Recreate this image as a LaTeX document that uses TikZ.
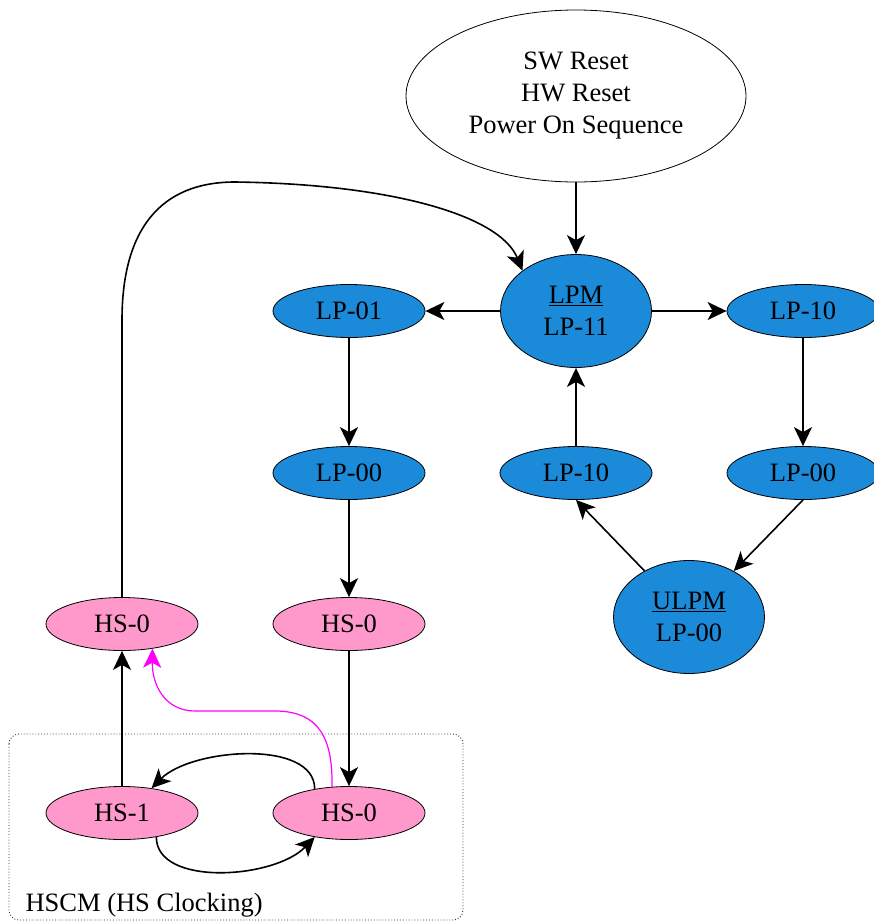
\documentclass[tikz,border=0pt]{standalone}
\usepackage{fontspec}
\setmainfont{Liberation Serif}
\usetikzlibrary{shapes.geometric,arrows.meta}

\definecolor{lpblue}{HTML}{1B8AD9}
\definecolor{hspink}{HTML}{FF99CC}
\definecolor{hsmagenta}{HTML}{FF00FF}

\begin{document}
\begin{tikzpicture}[x=1pt,y=-1pt,
  every node/.style={font=\fontsize{26.5}{32}\selectfont},
  state/.style={ellipse,draw,line width=0.8pt,inner sep=0pt,minimum width=152pt,minimum height=53pt},
  lpstate/.style={state,fill=lpblue},
  hsstate/.style={state,fill=hspink},
  arr/.style={line width=1.6pt,-{Stealth[length=19pt,width=18pt,inset=5pt]}}]
    \useasboundingbox (0,0) rectangle (874,922);

    % HSCM frame
    \draw[dotted,rounded corners=10pt,line width=0.9pt,black!80] (9,734) rectangle (463,920);
    \node[anchor=base west] (hscm) at (22,911) {HSCM (HS Clocking)};

    % Draw states
    \node[state,minimum width=340pt,minimum height=172pt,align=center] (reset) at (576,96) {SW Reset\\HW Reset\\Power On Sequence};
    \node[lpstate,minimum width=151pt,minimum height=113pt,align=center] (lpm) at (576,311) {\underline{LPM}\\LP-11};
    \node[lpstate,minimum width=151pt,minimum height=113pt,align=center] (ulpm) at (689,617) {\underline{ULPM}\\LP-00};
    \foreach \name/\x/\y/\txt in {lp01/349/311/LP-01, lp10r/803/311/LP-10, lp00l/349/473/LP-00, lp10m/576/473/LP-10, lp00r/803/473/LP-00} {
      \node[lpstate] (\name) at (\x,\y) {\txt};
    }
    \foreach \name/\x/\y/\txt in {hs0l/122/624/HS-0, hs0m/349/624/HS-0, hs1/122/813/HS-1, hs0b/349/813/HS-0} {
      \node[hsstate] (\name) at (\x,\y) {\txt};
    }

    % Draw transitions
    \draw[arr] (reset) -- (lpm);
    \draw[arr] (lpm.west) -- (lp01.east);
    \draw[arr] (lpm.east) -- (lp10r.west);
    \draw[arr] (lp01) -- (lp00l);
    \draw[arr] (lp00l) -- (hs0m);
    \draw[arr] (hs0m) -- (hs0b);
    \draw[arr] (lp10r) -- (lp00r);
    \draw[arr] (lp00r.south) -- (ulpm);
    \draw[arr] (ulpm) -- (lp10m.south);
    \draw[arr] (lp10m) -- (lpm);
    \draw[arr] (hs1) -- (hs0l);
    \draw[arr] (hs0l.north) -- (122,320) .. controls (122,230) and (160,182) .. (235,182) .. controls (390,184) and (500,215) .. (lpm.143);

    % HS clocking loop
    \draw[arr] (hs0b.145) .. controls +(0,-50) and +(40,-40) .. (hs1.40);
    \draw[arr] (hs1.-35) .. controls +(0,50) and +(-40,42) .. (hs0b.215);
    \draw[arr,hsmagenta,line width=1.2pt] (hs0b.123) .. controls (333,740) and (320,711) .. (275,711) -- (195,711) .. controls (165,711) and (152,685) .. (hs0l.-39);
\end{tikzpicture}
\end{document}
